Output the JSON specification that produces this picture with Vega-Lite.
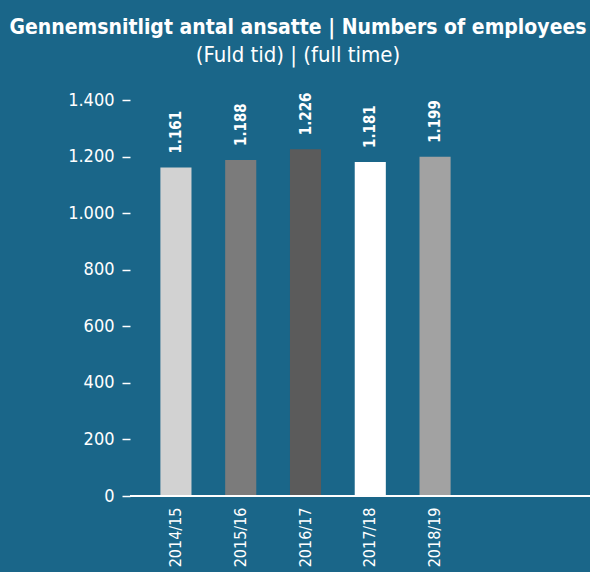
{
  "$schema": "https://vega.github.io/schema/vega-lite/v6.json",
  "autosize": "none",
  "width": 460,
  "height": 396,
  "padding": {"left": 130, "top": 100, "right": 0, "bottom": 76},
  "background": "#1a6689",
  "config": {
    "view": {"stroke": null},
    "locale": {"number": {"decimal": ",", "thousands": ".", "grouping": [3], "currency": ["", ""]}},
    "font": "DejaVu Sans Condensed"
  },
  "title": {
    "text": "Gennemsnitligt antal ansatte | Numbers of employees",
    "subtitle": "(Fuld tid) | (full time)",
    "color": "white",
    "subtitleColor": "white",
    "font": "DejaVu Sans Condensed",
    "subtitleFont": "DejaVu Sans Condensed",
    "fontSize": 21,
    "fontWeight": "bold",
    "subtitleFontSize": 22,
    "subtitleFontWeight": "normal",
    "subtitlePadding": 7,
    "anchor": "middle",
    "dx": -62,
    "offset": 25
  },
  "data": {
    "values": [
      {"year": "2014/15", "value": 1161, "color": "#d2d2d2"},
      {"year": "2015/16", "value": 1188, "color": "#7b7b7b"},
      {"year": "2016/17", "value": 1226, "color": "#5b5b5b"},
      {"year": "2017/18", "value": 1181, "color": "#ffffff"},
      {"year": "2018/19", "value": 1199, "color": "#a2a2a2"}
    ]
  },
  "encoding": {
    "x": {
      "field": "year",
      "type": "nominal",
      "sort": null,
      "scale": {"range": [-2, 353], "paddingInner": 0.52, "paddingOuter": 0.5, "align": 0.5},
      "axis": {
        "title": null,
        "labelAngle": -90,
        "labelColor": "white",
        "labelFontSize": 16,
        "labelPadding": 11,
        "ticks": false,
        "domain": false
      }
    },
    "y": {
      "field": "value",
      "type": "quantitative",
      "scale": {"domain": [0, 1400]},
      "axis": {
        "title": null,
        "values": [0, 200, 400, 600, 800, 1000, 1200, 1400],
        "format": ",d",
        "grid": false,
        "domain": false,
        "tickColor": "white",
        "tickSize": 8,
        "tickWidth": 1.5,
        "labelPadding": 8,
        "labelColor": "white",
        "labelFontSize": 18
      }
    }
  },
  "layer": [
    {
      "mark": {"type": "bar"},
      "encoding": {"color": {"field": "color", "type": "nominal", "scale": null}}
    },
    {
      "mark": {"type": "text", "angle": -90, "align": "left", "baseline": "middle", "dx": 14, "color": "white", "fontWeight": "bold", "fontSize": 15},
      "encoding": {"text": {"field": "value", "type": "quantitative", "format": ",d"}}
    },
    {
      "data": {"values": [{"base": 0}]},
      "mark": {"type": "rule", "color": "white", "strokeWidth": 2},
      "encoding": {"y": {"field": "base", "type": "quantitative"}, "x": null}
    }
  ]
}
